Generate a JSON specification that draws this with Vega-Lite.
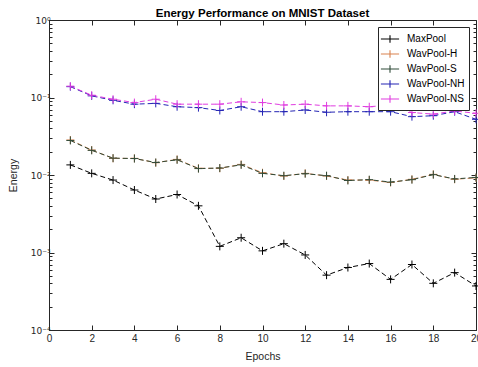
{
  "$schema": "https://vega.github.io/schema/vega-lite/v6.json",
  "width": 427,
  "height": 310,
  "autosize": "none",
  "padding": {"left": 49, "top": 20, "right": 2, "bottom": 37},
  "background": "white",
  "title": {"text": "Energy Performance on MNIST Dataset", "font": "Liberation Sans", "fontSize": 11.5, "fontWeight": "bold", "color": "#000000", "offset": -3, "anchor": "middle"},
  "data": {"values": [
    {"epoch":1,"series":"MaxPool","energy":0.0135},{"epoch":2,"series":"MaxPool","energy":0.0105},{"epoch":3,"series":"MaxPool","energy":0.0086},{"epoch":4,"series":"MaxPool","energy":0.0064},{"epoch":5,"series":"MaxPool","energy":0.0049},{"epoch":6,"series":"MaxPool","energy":0.0056},{"epoch":7,"series":"MaxPool","energy":0.0040},{"epoch":8,"series":"MaxPool","energy":0.0012},{"epoch":9,"series":"MaxPool","energy":0.00155},{"epoch":10,"series":"MaxPool","energy":0.00105},{"epoch":11,"series":"MaxPool","energy":0.0013},{"epoch":12,"series":"MaxPool","energy":0.00093},{"epoch":13,"series":"MaxPool","energy":0.00051},{"epoch":14,"series":"MaxPool","energy":0.00064},{"epoch":15,"series":"MaxPool","energy":0.00072},{"epoch":16,"series":"MaxPool","energy":0.00045},{"epoch":17,"series":"MaxPool","energy":0.0007},{"epoch":18,"series":"MaxPool","energy":0.0004},{"epoch":19,"series":"MaxPool","energy":0.00055},{"epoch":20,"series":"MaxPool","energy":0.00037},
    {"epoch":1,"series":"WavPool-H","energy":0.0283},{"epoch":2,"series":"WavPool-H","energy":0.021},{"epoch":3,"series":"WavPool-H","energy":0.0164},{"epoch":4,"series":"WavPool-H","energy":0.0164},{"epoch":5,"series":"WavPool-H","energy":0.0144},{"epoch":6,"series":"WavPool-H","energy":0.0159},{"epoch":7,"series":"WavPool-H","energy":0.0122},{"epoch":8,"series":"WavPool-H","energy":0.0122},{"epoch":9,"series":"WavPool-H","energy":0.0137},{"epoch":10,"series":"WavPool-H","energy":0.0107},{"epoch":11,"series":"WavPool-H","energy":0.0097},{"epoch":12,"series":"WavPool-H","energy":0.0105},{"epoch":13,"series":"WavPool-H","energy":0.0097},{"epoch":14,"series":"WavPool-H","energy":0.0086},{"epoch":15,"series":"WavPool-H","energy":0.0086},{"epoch":16,"series":"WavPool-H","energy":0.0080},{"epoch":17,"series":"WavPool-H","energy":0.0088},{"epoch":18,"series":"WavPool-H","energy":0.0102},{"epoch":19,"series":"WavPool-H","energy":0.0088},{"epoch":20,"series":"WavPool-H","energy":0.0092},
    {"epoch":1,"series":"WavPool-S","energy":0.0279},{"epoch":2,"series":"WavPool-S","energy":0.0208},{"epoch":3,"series":"WavPool-S","energy":0.0165},{"epoch":4,"series":"WavPool-S","energy":0.0163},{"epoch":5,"series":"WavPool-S","energy":0.0145},{"epoch":6,"series":"WavPool-S","energy":0.0157},{"epoch":7,"series":"WavPool-S","energy":0.0121},{"epoch":8,"series":"WavPool-S","energy":0.0123},{"epoch":9,"series":"WavPool-S","energy":0.0135},{"epoch":10,"series":"WavPool-S","energy":0.0105},{"epoch":11,"series":"WavPool-S","energy":0.0098},{"epoch":12,"series":"WavPool-S","energy":0.0104},{"epoch":13,"series":"WavPool-S","energy":0.0098},{"epoch":14,"series":"WavPool-S","energy":0.0085},{"epoch":15,"series":"WavPool-S","energy":0.0087},{"epoch":16,"series":"WavPool-S","energy":0.0081},{"epoch":17,"series":"WavPool-S","energy":0.0087},{"epoch":18,"series":"WavPool-S","energy":0.0101},{"epoch":19,"series":"WavPool-S","energy":0.0089},{"epoch":20,"series":"WavPool-S","energy":0.0093},
    {"epoch":1,"series":"WavPool-NH","energy":0.138},{"epoch":2,"series":"WavPool-NH","energy":0.105},{"epoch":3,"series":"WavPool-NH","energy":0.092},{"epoch":4,"series":"WavPool-NH","energy":0.082},{"epoch":5,"series":"WavPool-NH","energy":0.084},{"epoch":6,"series":"WavPool-NH","energy":0.076},{"epoch":7,"series":"WavPool-NH","energy":0.074},{"epoch":8,"series":"WavPool-NH","energy":0.068},{"epoch":9,"series":"WavPool-NH","energy":0.076},{"epoch":10,"series":"WavPool-NH","energy":0.0656},{"epoch":11,"series":"WavPool-NH","energy":0.0656},{"epoch":12,"series":"WavPool-NH","energy":0.069},{"epoch":13,"series":"WavPool-NH","energy":0.0645},{"epoch":14,"series":"WavPool-NH","energy":0.0656},{"epoch":15,"series":"WavPool-NH","energy":0.0656},{"epoch":16,"series":"WavPool-NH","energy":0.0656},{"epoch":17,"series":"WavPool-NH","energy":0.0566},{"epoch":18,"series":"WavPool-NH","energy":0.0582},{"epoch":19,"series":"WavPool-NH","energy":0.0656},{"epoch":20,"series":"WavPool-NH","energy":0.0523},
    {"epoch":1,"series":"WavPool-NS","energy":0.140},{"epoch":2,"series":"WavPool-NS","energy":0.107},{"epoch":3,"series":"WavPool-NS","energy":0.095},{"epoch":4,"series":"WavPool-NS","energy":0.086},{"epoch":5,"series":"WavPool-NS","energy":0.095},{"epoch":6,"series":"WavPool-NS","energy":0.082},{"epoch":7,"series":"WavPool-NS","energy":0.082},{"epoch":8,"series":"WavPool-NS","energy":0.082},{"epoch":9,"series":"WavPool-NS","energy":0.088},{"epoch":10,"series":"WavPool-NS","energy":0.086},{"epoch":11,"series":"WavPool-NS","energy":0.080},{"epoch":12,"series":"WavPool-NS","energy":0.082},{"epoch":13,"series":"WavPool-NS","energy":0.078},{"epoch":14,"series":"WavPool-NS","energy":0.078},{"epoch":15,"series":"WavPool-NS","energy":0.076},{"epoch":16,"series":"WavPool-NS","energy":0.080},{"epoch":17,"series":"WavPool-NS","energy":0.064},{"epoch":18,"series":"WavPool-NS","energy":0.061},{"epoch":19,"series":"WavPool-NS","energy":0.067},{"epoch":20,"series":"WavPool-NS","energy":0.0625}
  ]},
  "config": {
    "view": {"stroke": "#262626", "strokeWidth": 1},
    "axis": {
      "grid": false,
      "domainColor": "#262626",
      "tickColor": "#262626",
      "labelColor": "#262626",
      "titleColor": "#262626",
      "labelFont": "Liberation Sans",
      "titleFont": "Liberation Sans",
      "labelFontSize": 10,
      "titleFontSize": 10.5,
      "titleFontWeight": "normal",
      "tickSize": -5
    }
  },
  "encoding": {
    "x": {"field": "epoch", "type": "quantitative",
      "scale": {"domain": [0, 20], "nice": false},
      "axis": {"title": "Epochs", "values": [0,2,4,6,8,10,12,14,16,18,20], "labelPadding": 8, "titlePadding": 8, "labelFlush": false, "labelOverlap": false}},
    "y": {"field": "energy", "type": "quantitative",
      "scale": {"type": "log", "domain": [0.0001, 1], "nice": false},
      "axis": {"title": "Energy", "titlePadding": 12,
        "values": [0.0001,0.0002,0.0003,0.0004,0.0005,0.0006,0.0007,0.0008,0.0009,0.001,0.002,0.003,0.004,0.005,0.006,0.007,0.008,0.009,0.01,0.02,0.03,0.04,0.05,0.06,0.07,0.08,0.09,0.1,0.2,0.3,0.4,0.5,0.6,0.7,0.8,0.9,1],
        "labelExpr": "abs(log(datum.value)/LN10 - round(log(datum.value)/LN10)) > 0.001 ? '' : round(log(datum.value)/LN10) == 0 ? '10⁰' : round(log(datum.value)/LN10) == -1 ? '10⁻¹' : round(log(datum.value)/LN10) == -2 ? '10⁻²' : round(log(datum.value)/LN10) == -3 ? '10⁻³' : '10⁻⁴'",
        "labelFont": "DejaVu Sans", "labelFontSize": 9,
        "tickSize": {"condition": {"test": "abs(log(datum.value)/LN10 - round(log(datum.value)/LN10)) < 0.001", "value": -5}, "value": -3},
        "labelPadding": 4, "labelBaseline": "top", "labelOffset": -4, "labelOverlap": false, "labelFlush": false}},
    "color": {"field": "series", "type": "nominal",
      "scale": {"domain": ["MaxPool","WavPool-H","WavPool-S","WavPool-NH","WavPool-NS"], "range": ["#000000","#d9824f","#2f4a38","#2424b4","#e03ce0"]},
      "legend": {"title": null, "orient": "top-right", "offset": 7, "strokeColor": "#262626", "fillColor": "white", "padding": 4,
        "labelFont": "Liberation Sans", "labelFontSize": 10, "labelColor": "#000000",
        "symbolType": "M-1.3,0H1.3M0,-0.55V0.55", "symbolSize": 196, "symbolStrokeWidth": 1.1, "symbolFillColor": "transparent", "symbolOpacity": 1,
        "rowPadding": 0, "labelOffset": 9}}
  },
  "layer": [
    {"mark": {"type": "line", "strokeDash": [5, 3], "strokeWidth": 1}},
    {"mark": {"type": "point", "shape": "M-1,0L1,0M0,-1L0,1", "filled": false, "size": 64, "strokeWidth": 1, "opacity": 1},
     "encoding": {
       "x": {"field": "epoch", "type": "quantitative", "axis": {"orient": "top", "title": null, "labels": false, "values": [0,2,4,6,8,10,12,14,16,18,20], "domain": false}},
       "y": {"field": "energy", "type": "quantitative", "axis": {"orient": "right", "title": null, "labels": false, "domain": false,
         "values": [0.0001,0.0002,0.0003,0.0004,0.0005,0.0006,0.0007,0.0008,0.0009,0.001,0.002,0.003,0.004,0.005,0.006,0.007,0.008,0.009,0.01,0.02,0.03,0.04,0.05,0.06,0.07,0.08,0.09,0.1,0.2,0.3,0.4,0.5,0.6,0.7,0.8,0.9,1],
         "tickSize": {"condition": {"test": "abs(log(datum.value)/LN10 - round(log(datum.value)/LN10)) < 0.001", "value": -5}, "value": -3}}}
     }}
  ],
  "resolve": {"axis": {"x": "independent", "y": "independent"}}
}
